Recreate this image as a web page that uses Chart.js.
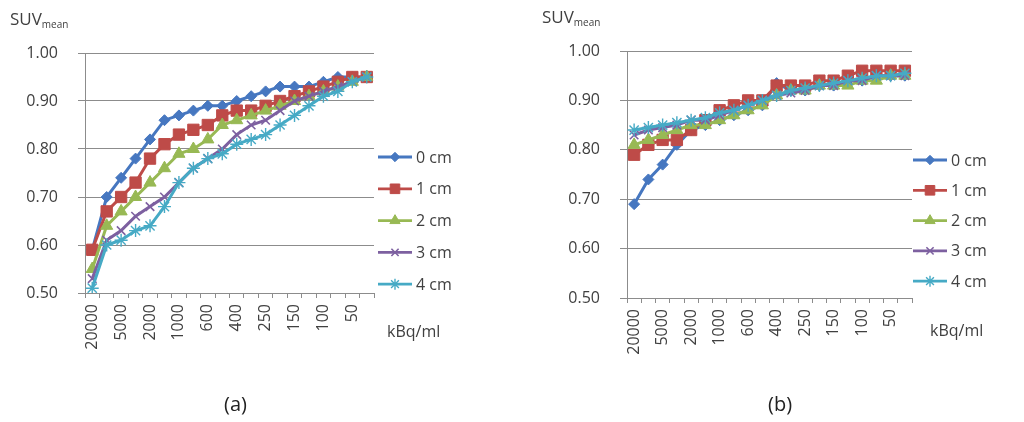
<!DOCTYPE html>
<html>
<head>
<meta charset="utf-8">
<script src="https://cdn.jsdelivr.net/npm/chart.js@4.4.1/dist/chart.umd.min.js"></script>
<style>
  body { margin: 0; background: #fff; font-family: "Open Sans", sans-serif; color: #404040; }
  #wrap { position: relative; width: 1024px; height: 422px; overflow: hidden; }
  canvas { position: absolute; top: 0; }
  .lbl { position: absolute; white-space: nowrap; line-height: 1; }
  .suv { font-size: 17px; }
  .suv sub { font-size: 10px; vertical-align: -3px; }
  .unit { font-size: 16px; }
  .cap { font-size: 20px; color: #222; }
</style>
</head>
<body>
<div id="wrap">
  <canvas id="chartA" width="512" height="422" style="left:0"></canvas>
  <canvas id="chartB" width="512" height="422" style="left:512px"></canvas>
  <div class="lbl suv" style="left:10px;top:10px">SUV<sub>mean</sub></div>
  <div class="lbl suv" style="left:542px;top:8px">SUV<sub>mean</sub></div>
  <div class="lbl unit" style="left:387px;top:323px">kBq/ml</div>
  <div class="lbl unit" style="left:930px;top:322px">kBq/ml</div>
  <div class="lbl cap" style="left:224px;top:394px">(a)</div>
  <div class="lbl cap" style="left:768px;top:394px">(b)</div>
</div>
<script>
// activity categories (only every other one is labelled on the axis)
const categories = ['20000','','5000','','2000','','1000','','600','','400','','250','','150','','100','','50',''];
const seriesNames = ['0 cm', '1 cm', '2 cm', '3 cm', '4 cm'];
const yTicks = [0.5, 0.6, 0.7, 0.8, 0.9, 1.0];

// (a)
const a0cm = [0.59,0.70,0.74,0.78,0.82,0.86,0.87,0.88,0.89,0.89,0.90,0.91,0.92,0.93,0.93,0.93,0.94,0.95,0.95,0.95];
const a1cm = [0.59,0.67,0.70,0.73,0.78,0.81,0.83,0.84,0.85,0.87,0.88,0.88,0.89,0.90,0.91,0.92,0.93,0.94,0.95,0.95];
const a2cm = [0.55,0.64,0.67,0.70,0.73,0.76,0.79,0.80,0.82,0.85,0.86,0.87,0.88,0.89,0.90,0.91,0.92,0.93,0.94,0.95];
const a3cm = [0.53,0.61,0.63,0.66,0.68,0.70,0.73,0.76,0.78,0.80,0.83,0.85,0.86,0.88,0.90,0.91,0.92,0.93,0.94,0.95];
const a4cm = [0.51,0.60,0.61,0.63,0.64,0.68,0.73,0.76,0.78,0.79,0.81,0.82,0.83,0.85,0.87,0.89,0.91,0.92,0.94,0.95];

// (b)
const b0cm = [0.69,0.74,0.77,0.81,0.84,0.85,0.86,0.87,0.88,0.89,0.935,0.92,0.92,0.93,0.93,0.94,0.94,0.95,0.95,0.95];
const b1cm = [0.79,0.81,0.82,0.82,0.84,0.86,0.88,0.89,0.90,0.90,0.93,0.93,0.93,0.94,0.94,0.95,0.96,0.96,0.96,0.96];
const b2cm = [0.81,0.82,0.83,0.84,0.85,0.85,0.86,0.87,0.88,0.89,0.91,0.92,0.92,0.93,0.93,0.93,0.94,0.94,0.95,0.95];
const b3cm = [0.83,0.84,0.845,0.85,0.86,0.86,0.87,0.88,0.89,0.90,0.91,0.915,0.92,0.93,0.93,0.94,0.94,0.95,0.95,0.95];
const b4cm = [0.84,0.845,0.85,0.855,0.86,0.865,0.875,0.88,0.89,0.90,0.91,0.92,0.925,0.93,0.935,0.94,0.945,0.95,0.95,0.955];

const colors = ['#4677c0', '#be4b48', '#98b954', '#7d60a0', '#46aac5'];
const markers = [
  { pointStyle: 'rectRot', radius: 5.5, borderWidth: 1 },
  { pointStyle: 'rect', radius: 8, borderWidth: 1 },
  { pointStyle: 'triangle', radius: 7, borderWidth: 1 },
  { pointStyle: 'crossRot', radius: 6, borderWidth: 1.6 },
  { pointStyle: 'star', radius: 6.5, borderWidth: 1.4 }
];

const FONT = '"Open Sans", sans-serif';
const GRID = '#8c8c8c';

// legend drawn as line + marker, like the spreadsheet legend
const sideLegend = {
  id: 'sideLegend',
  afterDraw(chart, args, opts) {
    const ctx = chart.ctx;
    const x0 = chart.chartArea.right + opts.dx;
    ctx.save();
    chart.data.datasets.forEach((ds, i) => {
      const y = opts.top + i * opts.gap;
      ctx.strokeStyle = ds.borderColor;
      ctx.lineWidth = 2.8;
      ctx.beginPath();
      ctx.moveTo(x0, y);
      ctx.lineTo(x0 + 34, y);
      ctx.stroke();
      ctx.fillStyle = ds.pointBackgroundColor;
      ctx.strokeStyle = ds.pointBorderColor;
      ctx.lineWidth = ds.pointBorderWidth;
      Chart.helpers.drawPoint(ctx, {
        pointStyle: ds.pointStyle, radius: ds.pointRadius * 0.85,
        rotation: 0, borderWidth: ds.pointBorderWidth
      }, x0 + 17, y);
      ctx.fillStyle = '#404040';
      ctx.font = '16px ' + FONT;
      ctx.textBaseline = 'middle';
      ctx.textAlign = 'left';
      ctx.fillText(ds.label, x0 + 38, y + 1);
    });
    ctx.restore();
  }
};

function makeChart(id, series, pad, axisW, axisH, legend) {
  const datasets = series.map((vals, i) => ({
    label: seriesNames[i],
    data: vals,
    borderColor: colors[i],
    borderWidth: 3,
    pointBackgroundColor: colors[i],
    pointBorderColor: colors[i],
    pointBorderWidth: markers[i].borderWidth,
    pointStyle: markers[i].pointStyle,
    pointRadius: markers[i].radius,
    tension: 0,
    order: 5 - i
  }));
  return new Chart(document.getElementById(id), {
    type: 'line',
    data: { labels: categories, datasets },
    options: {
      responsive: false,
      animation: false,
      layout: { padding: pad },
      plugins: { legend: { display: false }, tooltip: { enabled: false }, sideLegend: legend },
      scales: {
        x: {
          offset: true,
          grid: { drawOnChartArea: false, drawTicks: true, tickLength: 5, offset: true, color: GRID },
          border: { display: true, color: GRID, width: 1 },
          ticks: {
            autoSkip: false, minRotation: 90, maxRotation: 90, padding: 6,
            color: '#404040', font: { family: FONT, size: 16 }
          },
          afterFit(s) { s.height = axisH; }
        },
        y: {
          min: 0.5, max: 1.0,
          afterBuildTicks(s) { s.ticks = yTicks.map(v => ({ value: v })); },
          grid: { color: GRID, lineWidth: 1, tickLength: 7 },
          border: { display: true, color: GRID, width: 1 },
          ticks: {
            padding: 20, color: '#404040', font: { family: FONT, size: 16 },
            callback: v => Number(v).toFixed(2)
          },
          afterFit(s) { s.width = axisW; }
        }
      }
    },
    plugins: [sideLegend]
  });
}

makeChart('chartA', [a0cm, a1cm, a2cm, a3cm, a4cm],
  { left: 0, right: 138, top: 53, bottom: 0 }, 85, 129,
  { dx: 4, top: 157, gap: 31.8 });
makeChart('chartB', [b0cm, b1cm, b2cm, b3cm, b4cm],
  { left: 30, right: 112, top: 51, bottom: 0 }, 85, 124,
  { dx: 1, top: 160, gap: 30.3 });
</script>
</body>
</html>
